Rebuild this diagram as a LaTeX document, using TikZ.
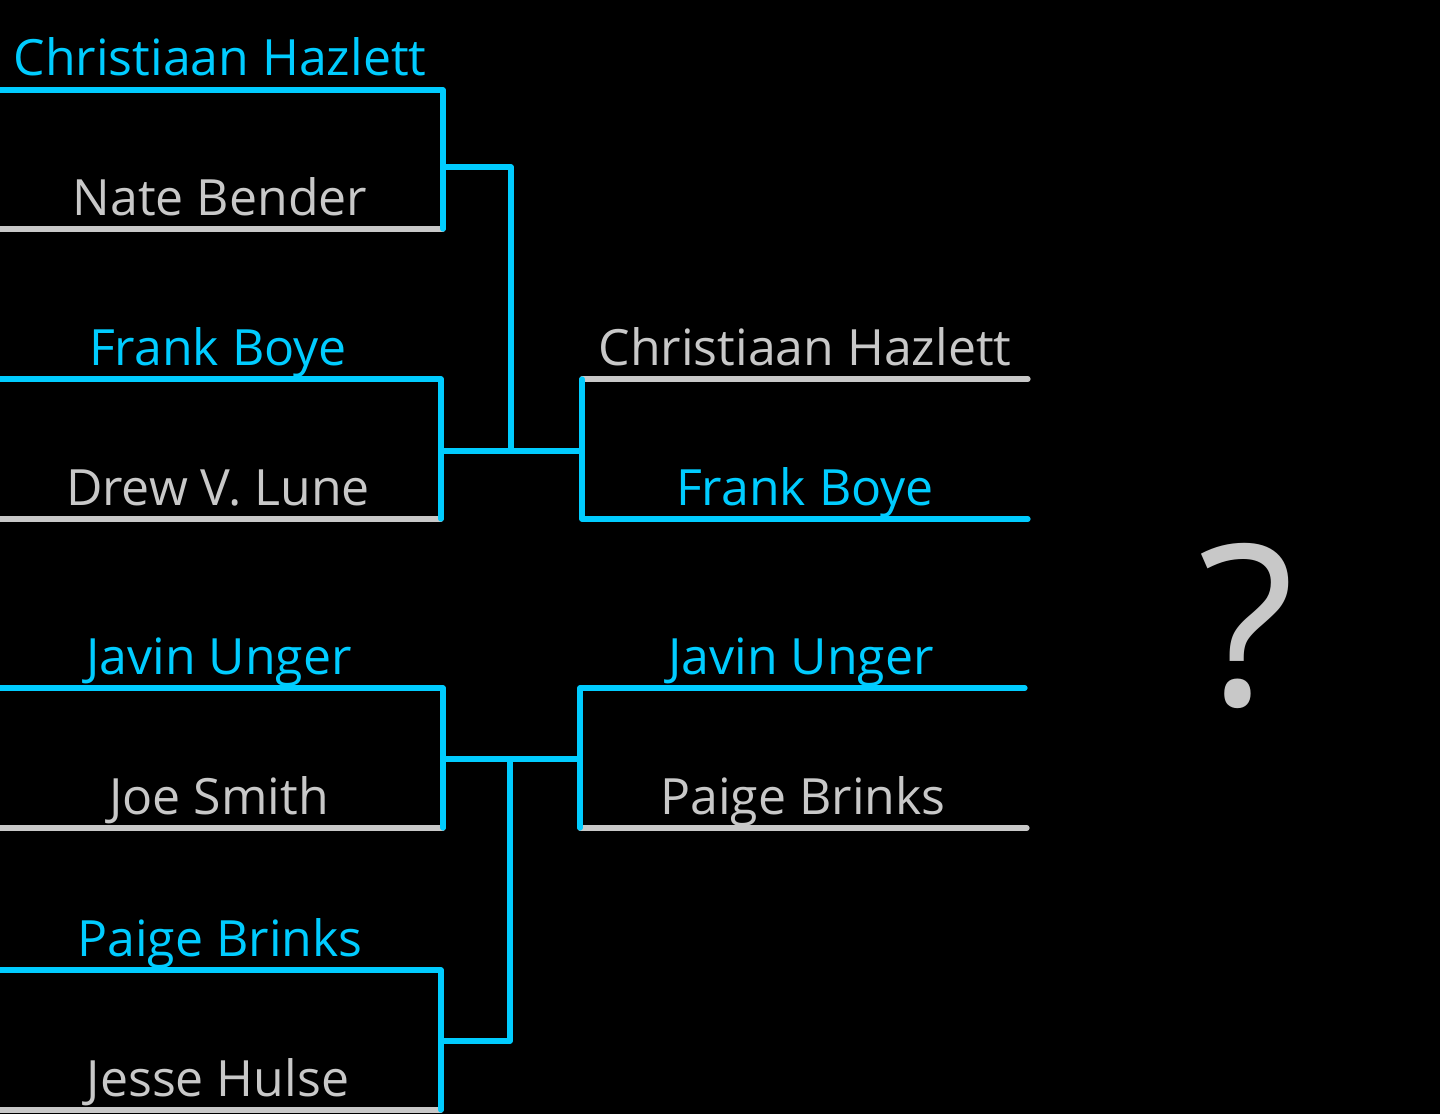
\documentclass[tikz,border=0pt]{standalone}
\usepackage{fontspec}
\setmainfont{Open Sans}
\definecolor{wincol}{RGB}{0,204,255}
\definecolor{losecol}{RGB}{200,200,200}
\begin{document}
\begin{tikzpicture}[x=0.5pt,y=-0.5pt,
  win/.style={draw=wincol,line width=2.6pt,line cap=round,line join=round},
  lose/.style={draw=losecol,line width=2.6pt,line cap=round,line join=round},
  wname/.style={text=wincol,anchor=base,font=\fontsize{25}{30}\selectfont,inner sep=0pt},
  lname/.style={text=losecol,anchor=base,font=\fontsize{25}{30}\selectfont,inner sep=0pt}]
\fill[black] (0,0) rectangle (1440,1114);
\useasboundingbox (0,0) rectangle (1440,1114);
% Round 1
\draw[lose] (-5,229) -- (443,229);
\draw[win] (-5,90) -- (443,90) -- (443,229);
\draw[lose] (-5,519) -- (441,519);
\draw[win] (-5,379) -- (441,379) -- (441,519);
\draw[lose] (-5,828) -- (443,828);
\draw[win] (-5,688) -- (443,688) -- (443,828);
\draw[lose] (-5,1110) -- (441,1110);
\draw[win] (-5,970) -- (441,970) -- (441,1110);
% connectors
\draw[win] (443,167) -- (511,167) -- (511,451);
\draw[win] (441,451) -- (582,451);
\draw[win] (443,759) -- (580,759);
\draw[win] (510,759) -- (510,1041) -- (441,1041);
% Round 2
\draw[lose] (582,379) -- (1028,379);
\draw[win] (582,379) -- (582,519) -- (1028,519);
\draw[lose] (580,828) -- (1027,828);
\draw[win] (580,828) -- (580,688) -- (1025,688);
% names round 1
\node[wname] (n1) at (220,75) {Christiaan Hazlett};
\node[lname] (n2) at (220,215) {Nate Bender};
\node[wname] (n3) at (218,365) {Frank Boye};
\node[lname] (n4) at (218,505) {Drew V. Lune};
\node[wname] (n5) at (219,674) {Javin Unger};
\node[lname] (n6) at (219,814) {Joe Smith};
\node[wname] (n7) at (220,956) {Paige Brinks};
\node[lname] (n8) at (218,1096) {Jesse Hulse};
% names round 2
\node[lname] (m1) at (805,365) {Christiaan Hazlett};
\node[wname] (m2) at (805,505) {Frank Boye};
\node[wname] (m3) at (801,674) {Javin Unger};
\node[lname] (m4) at (803,814) {Paige Brinks};
% final
\node[text=losecol,anchor=base,inner sep=0pt,font=\fontsize{112}{130}\selectfont] (q) at (1247,705) {?};
\end{tikzpicture}
\end{document}
